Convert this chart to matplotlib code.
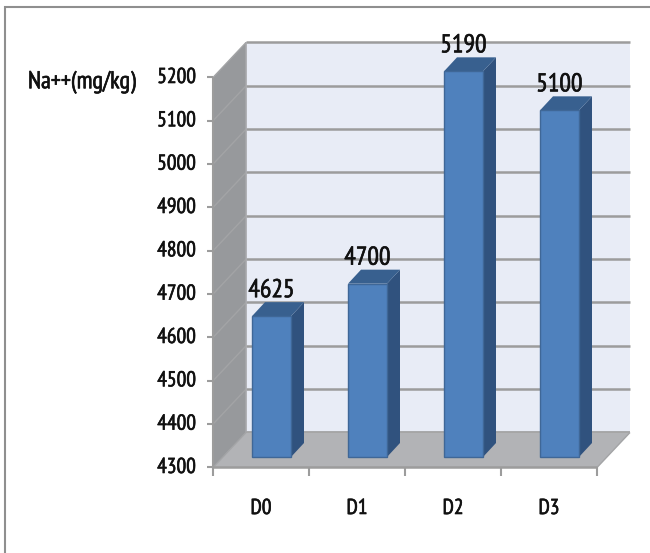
import matplotlib
matplotlib.use("Agg")
import matplotlib.pyplot as plt
import matplotlib.patheffects as pe
from matplotlib.patches import Polygon, Rectangle
from matplotlib.lines import Line2D

categories = ["D0", "D1", "D2", "D3"]
sodium = [4625, 4700, 5190, 5100]
y_ticks = [4300, 4400, 4500, 4600, 4700, 4800, 4900, 5000, 5100, 5200]
y_title = "Na++(mg/kg)"

FIG_W, FIG_H = 650, 553
LEFT, RIGHT = 213, 597      # front edge of the floor, in pixels
BOTTOM, TOP = 467.5, 77.5   # 4300 and 5200 on the front axis, in pixels

plt.rcParams["font.family"] = ["PT Sans Narrow", "Archivo Narrow", "Roboto Condensed", "Lato", "DejaVu Sans"]

fig = plt.figure(figsize=(FIG_W / 100, FIG_H / 100), dpi=100, facecolor="white")
ax = fig.add_axes([LEFT / FIG_W, 1 - BOTTOM / FIG_H,
                   (RIGHT - LEFT) / FIG_W, (BOTTOM - TOP) / FIG_H])
ax.set_xlim(0, 4)
ax.set_ylim(y_ticks[0], y_ticks[-1])
ax.axis("off")

px_x = 4 / (RIGHT - LEFT)
px_y = (y_ticks[-1] - y_ticks[0]) / (BOTTOM - TOP)

# Oblique offsets: wall depth, and the bar's set-back and depth on the floor
wall_dx, wall_dy = 33 * px_x, 35 * px_y
front_dx, front_dy = 39 * px_x, 10.5 * px_y
bar_w = 39 * px_x
bar_dx, bar_dy = 13 * px_x, 14 * px_y

GRID = "#9c9c9c"
TEXT = "#111111"
# A hairline stroke gives the narrow face a little more weight
HEAVY = [pe.withStroke(linewidth=0.45, foreground=TEXT)]
base, top = y_ticks[0], y_ticks[-1]


def poly(points, face, edge="none", lw=0.0, z=1):
    ax.add_patch(Polygon(points, closed=True, facecolor=face, edgecolor=edge,
                         linewidth=lw, zorder=z, clip_on=False))


def line(xs, ys, color=GRID, lw=1.5, z=2):
    ax.add_line(Line2D(xs, ys, color=color, linewidth=lw, zorder=z, clip_on=False,
                       solid_capstyle="butt"))


# Back wall, side wall and floor
poly([(wall_dx, base + wall_dy), (4 + wall_dx, base + wall_dy),
      (4 + wall_dx, top + wall_dy), (wall_dx, top + wall_dy)], "#e8ecf6")
poly([(0, base), (wall_dx, base + wall_dy), (wall_dx, top + wall_dy), (0, top)], "#97999c")
poly([(0, base), (4, base), (4 + wall_dx, base + wall_dy), (wall_dx, base + wall_dy)], "#b2b3b6")

# Gridlines wrap from the front axis across the side wall and back wall
for v in y_ticks:
    line([0, wall_dx], [v, v + wall_dy], color="#a3a4a6", lw=1.0)
    line([wall_dx, 4 + wall_dx], [v + wall_dy, v + wall_dy], lw=1.8 if v > base else 1.2)
line([wall_dx, wall_dx], [base + wall_dy, top + wall_dy], color="#a6a7aa", lw=1.2)
line([4, 4 + wall_dx], [base, base + wall_dy], color="#a3a4a6", lw=1.0)

# Front axes with tick marks
line([0, 0], [base, top], lw=1.5, z=6)
line([0, 4], [base, base], lw=1.8, z=6)
for v in y_ticks:
    line([-6 * px_x, 0], [v, v], lw=1.5, z=6)
    ax.text(-17 * px_x, v, str(v), ha="right", va="center", fontsize=15.5, color=TEXT,
            path_effects=HEAVY)
for i in range(5):
    line([i, i], [base, base - 9 * px_y], lw=1.5, z=6)

# Bars: shaded top and side faces behind a front face, with the value above
for i, (name, v) in enumerate(zip(categories, sodium)):
    x0 = i + front_dx
    y0 = base + front_dy
    y1 = v + front_dy
    x1 = x0 + bar_w
    poly([(x1, y0), (x1 + bar_dx, y0 + bar_dy), (x1 + bar_dx, y1 + bar_dy), (x1, y1)],
         "#30527e", z=3)
    poly([(x0, y1), (x1, y1), (x1 + bar_dx, y1 + bar_dy), (x0 + bar_dx, y1 + bar_dy)],
         "#38608f", z=3)
    ax.add_patch(Rectangle((x0, y0), bar_w, v - base, facecolor="#4f81bd",
                           edgecolor="#3f6797", linewidth=1.0, zorder=4, clip_on=False))
    ax.text(x0 + bar_w / 2, y1 + bar_dy + 5 * px_y, f"{v}", ha="center", va="baseline",
            fontsize=18.5, color=TEXT, zorder=7, path_effects=HEAVY)
    ax.text(i + 0.5, base - 41 * px_y, name, ha="center", va="center",
            fontsize=15.5, color=TEXT, path_effects=HEAVY)

ax.text(-185 * px_x, top - 5 * px_y, y_title, ha="left", va="center",
        fontsize=17.5, color=TEXT, path_effects=HEAVY)

# Chart-area outline
fig.add_artist(Rectangle((4.5 / FIG_W, -0.02), 2, 1 - 7 / FIG_H + 0.02,
                         transform=fig.transFigure, facecolor="none",
                         edgecolor="#8f8f8f", linewidth=1.5))

fig.savefig("out.png", dpi=100, facecolor="white")
